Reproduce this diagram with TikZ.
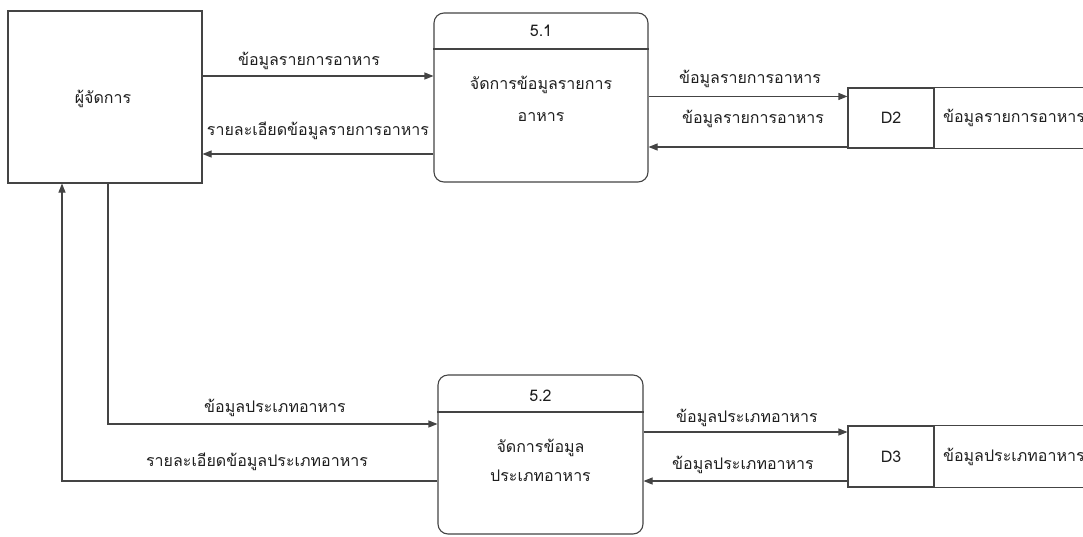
\documentclass[tikz,border=0pt]{standalone}
\usepackage{fontspec}
\setmainfont[Script=Thai]{Loma}
\usetikzlibrary{arrows.meta}
\definecolor{linecol}{RGB}{68,68,68}
\definecolor{txtcol}{RGB}{30,30,30}
\begin{document}
\begin{tikzpicture}[x=1pt,y=-1pt,
  every node/.style={text=txtcol, font=\fontsize{16}{20}\selectfont},
  box/.style={draw=linecol, line width=1.1pt, inner sep=0pt},
  procbox/.style={box, rounded corners=10pt},
  flowlabel/.style={inner sep=1pt},
  arr/.style={draw=linecol, line width=1.1pt, -{Triangle[length=9pt,width=7pt]}},
  edge/.style={draw=linecol, line width=1.1pt}
]
\useasboundingbox (0,0) rectangle (1083,536);

% external entity
\node[box, minimum width=194pt, minimum height=172pt] (mgr) at (105,97) {};
\node (mgrt) at (103,99) {ผู้จัดการ};

% process 5.1
\node[procbox, minimum width=214pt, minimum height=169pt] (p1) at (541,97.5) {};
\draw[edge] (p1.west |- 0,49) -- (p1.east |- 0,49);
\node (p1id) at (541,31) {5.1};
\node[align=center, font=\fontsize{16}{32}\selectfont] (p1t) at (541,99) {จัดการข้อมูลรายการ\\อาหาร};

% process 5.2
\node[procbox, minimum width=205pt, minimum height=159pt] (p2) at (540.5,454.5) {};
\draw[edge] (p2.west |- 0,412) -- (p2.east |- 0,412);
\node (p2id) at (540.5,396) {5.2};
\node[align=center, font=\fontsize{16}{29}\selectfont] (p2t) at (540.5,460) {จัดการข้อมูล\\ประเภทอาหาร};

% data store D2
\node[box, minimum width=86pt, minimum height=60pt] (d2) at (891,118) {D2};
\draw[edge] (d2.north east) -- ++(160,0);
\draw[edge, line width=1.5pt] (d2.south east) -- ++(160,0);
\node[anchor=west] (d2n) at ([xshift=5]d2.east) {ข้อมูลรายการอาหาร};

% data store D3
\node[box, minimum width=86pt, minimum height=61pt] (d3) at (891,456.5) {D3};
\draw[edge, line width=1.5pt] (d3.north east) -- ++(160,0);
\draw[edge] (d3.south east) -- ++(160,0);
\node[anchor=west] (d3n) at ([xshift=5]d3.east) {ข้อมูลประเภทอาหาร};

% flows between manager and 5.1
\draw[arr] ([yshift=21]mgr.east) -- ([yshift=21]mgr.east -| p1.west);
\draw[arr] ([yshift=-57]mgr.east -| p1.west) -- ([yshift=-57]mgr.east);
\node[flowlabel] (l1) at (309,61) {ข้อมูลรายการอาหาร};
\node[flowlabel] (l2) at (318,131) {รายละเอียดข้อมูลรายการอาหาร};

% flows between 5.1 and D2
\draw[arr] (p1.east |- d2.north) ++(0,9) coordinate (a3s) -- (a3s -| d2.west);
\draw[arr] ([yshift=-29]d2.west) -- ([yshift=-29]d2.west -| p1.east);
\node[flowlabel] (l3) at (750,79) {ข้อมูลรายการอาหาร};
\node[flowlabel] (l4) at (753,119) {ข้อมูลรายการอาหาร};

% flows between manager and 5.2
\draw[arr] ([xshift=3]mgr.south) |- ([yshift=30.5]p2.west);
\draw[arr] ([yshift=-26.5]p2.west) -| ([xshift=-43]mgr.south);
\node[flowlabel] (l5) at (275,408) {ข้อมูลประเภทอาหาร};
\node[flowlabel] (l6) at (257,462) {รายละเอียดข้อมูลประเภทอาหาร};

% flows between 5.2 and D3
\draw[arr] ([yshift=22.5]p2.east) -- ([yshift=22.5]p2.east -| d3.west);
\draw[arr] ([yshift=-24.5]d3.west) -- ([yshift=-24.5]d3.west -| p2.east);
\node[flowlabel] (l7) at (747,418) {ข้อมูลประเภทอาหาร};
\node[flowlabel] (l8) at (743,465) {ข้อมูลประเภทอาหาร};
\end{tikzpicture}
\end{document}
